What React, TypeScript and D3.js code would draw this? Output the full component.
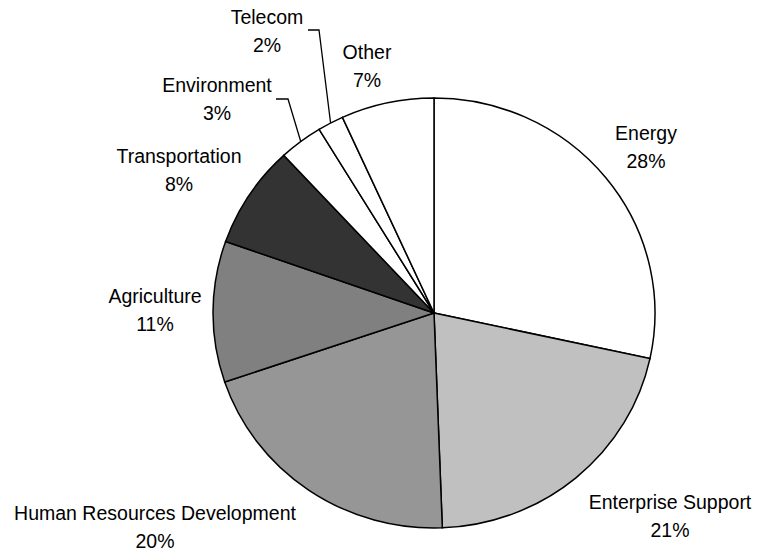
import React from "react";
import * as d3 from "d3";

const categories = [
  "Energy",
  "Enterprise Support",
  "Human Resources Development",
  "Agriculture",
  "Transportation",
  "Environment",
  "Telecom",
  "Other",
];
const shares = [28.4, 21.0, 20.4, 10.6, 7.7, 3.2, 1.9, 6.8];
const fills = ["#ffffff", "#c0c0c0", "#969696", "#808080", "#333333", "#ffffff", "#ffffff", "#ffffff"];

// layout (label anchors: centre x, first-line baseline y)
const labelAnchors: [number, number][] = [
  [646, 140],
  [670, 509],
  [155, 520],
  [155, 303],
  [179, 163],
  [217, 92],
  [267, 24],
  [367, 59],
];
// leader lines: index -> elbow start (near label)
const leaders: { [k: number]: [number, number][] } = {
  5: [[276, 99], [288, 99]],
  6: [[308, 30], [319, 30]],
};

const W = 758;
const H = 554;
const CX = 434;
const CY = 313;
const RY = 215;
const RX = 221;
const LINE = 27.5;

export default function App() {
  const pie = d3.pie<number>().sort(null).value((d) => d)(shares);
  const arc = d3.arc<d3.PieArcDatum<number>>().innerRadius(0).outerRadius(RY);
  const sx = RX / RY;

  return (
    <svg
      width={W}
      height={H}
      style={{ position: "absolute", left: 0, top: 0, background: "#fff" }}
      fontFamily="Liberation Sans, Arial, sans-serif"
    >
      <g transform={`translate(${CX},${CY}) scale(${sx},1)`}>
        {pie.map((p, i) => (
          <path
            key={i}
            d={arc(p) || ""}
            fill={fills[i]}
            stroke="#000"
            strokeWidth={1.5}
            vectorEffect="non-scaling-stroke"
          />
        ))}
      </g>
      {pie.map((p, i) => {
        const pts = leaders[i];
        if (!pts) return null;
        const mid = (p.startAngle + p.endAngle) / 2;
        const ex = CX + RX * Math.sin(mid);
        const ey = CY - RY * Math.cos(mid);
        const all = [...pts, [ex, ey] as [number, number]];
        return (
          <path
            key={"l" + i}
            d={d3.line()(all) || ""}
            fill="none"
            stroke="#000"
            strokeWidth={1.3}
          />
        );
      })}
      {categories.map((c, i) => (
        <text key={"t" + i} textAnchor="middle" fontSize={19.5} fill="#000">
          <tspan x={labelAnchors[i][0]} y={labelAnchors[i][1]}>
            {c}
          </tspan>
          <tspan x={labelAnchors[i][0]} y={labelAnchors[i][1] + LINE}>
            {Math.round(shares[i]) + "%"}
          </tspan>
        </text>
      ))}
    </svg>
  );
}
